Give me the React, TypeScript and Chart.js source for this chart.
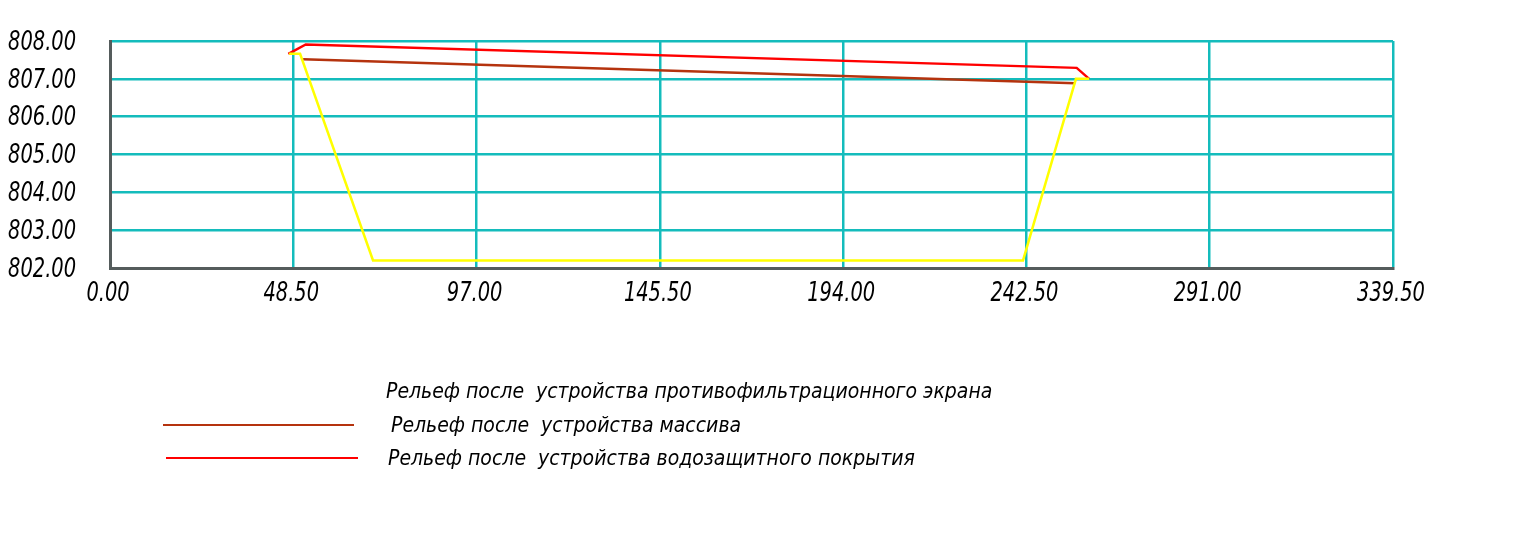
import React, { useEffect, useRef } from "react";
import { Chart, registerables } from "chart.js";

Chart.register(...registerables);

const screenX = [47.4, 50.3, 69.6, 241.6, 255.6, 259.1];
const screenY = [807.66, 807.66, 802.2, 802.2, 807.0, 807.0];
const massX = [51.1, 255.4];
const massY = [807.52, 806.88];
const coverX = [47.2, 51.8, 255.8, 259.1];
const coverY = [807.66, 807.91, 807.29, 807.0];

const seriesLabels = [
  "Рельеф после  устройства противофильтрационного экрана",
  "Рельеф после  устройства массива",
  "Рельеф после  устройства водозащитного покрытия",
];
const seriesColors = ["#ffff00", "#b5330e", "#ff0000"];

const xMin = 0;
const xMax = 339.5;
const xStep = 48.5;
const yMin = 802;
const yMax = 808;
const yStep = 1;

const FONT = "'DejaVu Sans Condensed', 'Liberation Sans Narrow', 'Liberation Sans', sans-serif";

const toPoints = (xs: number[], ys: number[]) => xs.map((x, i) => ({ x, y: ys[i] }));

// Draws tick labels through the scales, in a narrow CAD-like style
const tickLabelPlugin = {
  id: "cadTicks",
  afterDraw(chart: any) {
    const ctx = chart.ctx;
    const sx = 0.83;
    ctx.save();
    ctx.fillStyle = "#000";
    ctx.font = `italic 26px ${FONT}`;
    ctx.textBaseline = "middle";
    const ys = chart.scales.y;
    ys.ticks.forEach((t: any) => {
      const py = ys.getPixelForValue(t.value);
      const txt = Number(t.value).toFixed(2);
      ctx.save();
      ctx.translate(76, py + 2);
      ctx.scale(sx, 1);
      ctx.textAlign = "right";
      ctx.fillText(txt, 0, 0);
      ctx.restore();
    });
    const xs = chart.scales.x;
    xs.ticks.forEach((t: any) => {
      const px = xs.getPixelForValue(t.value);
      const txt = Number(t.value).toFixed(2);
      ctx.save();
      ctx.translate(px - 2, 294);
      ctx.scale(sx, 1);
      ctx.textAlign = "center";
      ctx.fillText(txt, 0, 0);
      ctx.restore();
    });
    ctx.restore();
  },
};

const legendPlugin = {
  id: "cadLegend",
  afterDraw(chart: any) {
    const ctx = chart.ctx;
    ctx.save();
    const rows = [
      { lx1: 0, lx2: 0, ly: 0, tx: 386, ty: 398, line: false },
      { lx1: 163, lx2: 354, ly: 425, tx: 391, ty: 432, line: true },
      { lx1: 166, lx2: 358, ly: 458, tx: 388, ty: 465, line: true },
    ];
    rows.forEach((r, i) => {
      if (r.line) {
        ctx.strokeStyle = seriesColors[i];
        ctx.lineWidth = 2;
        ctx.beginPath();
        ctx.moveTo(r.lx1, r.ly);
        ctx.lineTo(r.lx2, r.ly);
        ctx.stroke();
      }
      ctx.fillStyle = "#000";
      ctx.font = `italic 21px 'Liberation Sans Narrow', 'DejaVu Sans Condensed', sans-serif`;
      ctx.textBaseline = "alphabetic";
      ctx.textAlign = "left";
      ctx.fillText(chart.data.datasets[i].label, r.tx, r.ty);
    });
    ctx.restore();
  },
};

export default function App() {
  const ref = useRef<HTMLCanvasElement | null>(null);
  useEffect(() => {
    if (!ref.current) return;
    const chart = new Chart(ref.current, {
      type: "line",
      data: {
        datasets: [
          { label: seriesLabels[0], data: toPoints(screenX, screenY), borderColor: seriesColors[0], borderWidth: 2.5, pointRadius: 0, tension: 0 },
          { label: seriesLabels[1], data: toPoints(massX, massY), borderColor: seriesColors[1], borderWidth: 2.5, pointRadius: 0, tension: 0 },
          { label: seriesLabels[2], data: toPoints(coverX, coverY), borderColor: seriesColors[2], borderWidth: 2.5, pointRadius: 0, tension: 0 },
        ],
      },
      options: {
        responsive: false,
        animation: false,
        layout: { padding: { top: 41, right: 137, left: 0, bottom: 0 } },
        plugins: { legend: { display: false }, tooltip: { enabled: false } },
        scales: {
          x: {
            type: "linear",
            min: xMin,
            max: xMax,
            afterFit: (s: any) => { s.height = 272; },
            afterBuildTicks: (s: any) => {
              const t = [];
              for (let v = xMin; v <= xMax + 1e-9; v += xStep) t.push({ value: v });
              s.ticks = t;
            },
            grid: { color: "#14bcbc", lineWidth: 2.5, drawTicks: false },
            border: { color: "#555c5c", width: 3 },
            ticks: { display: false, autoSkip: false },
          },
          y: {
            type: "linear",
            min: yMin,
            max: yMax,
            afterFit: (s: any) => { s.width = 110; },
            grid: { color: "#14bcbc", lineWidth: 2.5, drawTicks: false },
            border: { color: "#555c5c", width: 3 },
            ticks: { display: false, stepSize: yStep },
          },
        },
      },
      plugins: [tickLabelPlugin, legendPlugin],
    } as any);
    return () => chart.destroy();
  }, []);
  return (
    <div style={{ position: "absolute", left: 0, top: 0, width: 1530, height: 540, background: "#fff" }}>
      <canvas ref={ref} width={1530} height={540} />
    </div>
  );
}
